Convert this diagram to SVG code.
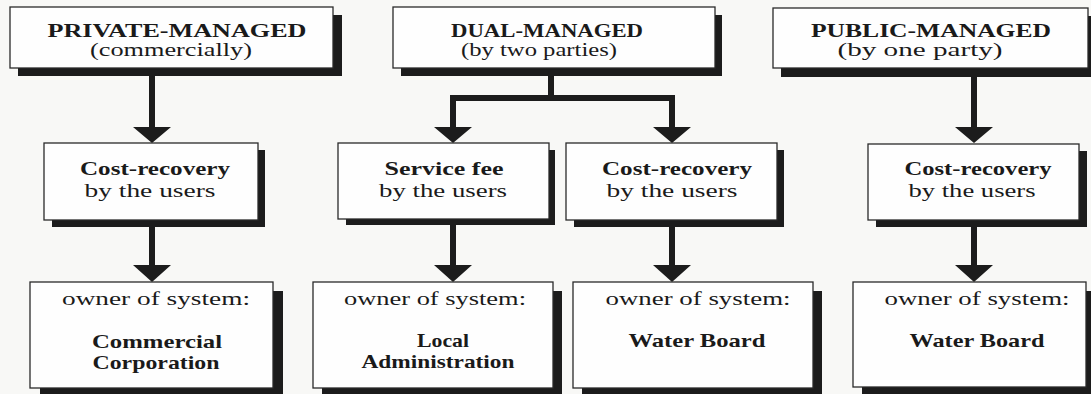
<svg xmlns="http://www.w3.org/2000/svg" width="1091" height="394" viewBox="0 0 1091 394">
<style>
.bg{fill:#f8f8f6}
.box{fill:#fefefe;stroke:#2a2a2a;stroke-width:1.3}
.shadow{fill:#1c1c1c}
.t{font-family:"Liberation Serif","Times New Roman",serif;fill:#1a1a1a;text-anchor:middle}
.b{font-weight:bold}
.s17{font-size:18px}
.s18{font-size:19px}
.line{stroke:#1c1c1c;stroke-width:6;fill:none}
.head{fill:#1c1c1c}
</style>
<rect class="bg" x="0" y="0" width="1091" height="394"/>

<g id="connectors">
  <path class="line" d="M152,76 V128"/>
  <polygon class="head" points="133,127 171,127 152,143"/>
  <path class="line" d="M152,227 V266"/>
  <polygon class="head" points="133,265 171,265 152,282"/>

  <path class="line" d="M551,76 V98 M453,98 H672 M453,95 V128 M672,95 V128"/>
  <polygon class="head" points="434,127 472,127 453,143"/>
  <polygon class="head" points="653,127 691,127 672,143"/>
  <path class="line" d="M453,225 V266"/>
  <polygon class="head" points="434,265 472,265 453,282"/>
  <path class="line" d="M672,227 V266"/>
  <polygon class="head" points="653,265 691,265 672,282"/>

  <path class="line" d="M974,77 V128"/>
  <polygon class="head" points="955,127 993,127 974,143"/>
  <path class="line" d="M974,227 V266"/>
  <polygon class="head" points="955,265 993,265 974,282"/>
</g>

<g id="private-managed">
  <rect class="shadow" x="18" y="15" width="324" height="61"/>
  <rect class="box" x="10" y="7" width="323" height="61"/>
  <text class="t b s17" x="177" y="37" textLength="259" lengthAdjust="spacingAndGlyphs">PRIVATE-MANAGED</text>
  <text class="t s17" x="171" y="56" textLength="162" lengthAdjust="spacingAndGlyphs">(commercially)</text>
</g>

<g id="dual-managed">
  <rect class="shadow" x="401" y="15" width="321" height="61"/>
  <rect class="box" x="393" y="7" width="322" height="61"/>
  <text class="t b s17" x="547" y="37" textLength="192" lengthAdjust="spacingAndGlyphs">DUAL-MANAGED</text>
  <text class="t s17" x="539" y="56" textLength="156" lengthAdjust="spacingAndGlyphs">(by two parties)</text>
</g>

<g id="public-managed">
  <rect class="shadow" x="781" y="16" width="310" height="61"/>
  <rect class="box" x="773" y="8" width="315" height="60"/>
  <text class="t b s17" x="931" y="37" textLength="240" lengthAdjust="spacingAndGlyphs">PUBLIC-MANAGED</text>
  <text class="t s17" x="920" y="56" textLength="165" lengthAdjust="spacingAndGlyphs">(by one party)</text>
</g>

<g id="cost-recovery-private">
  <rect class="shadow" x="52" y="150" width="213" height="77"/>
  <rect class="box" x="44" y="143" width="214" height="77"/>
  <text class="t b s18" x="155" y="175" textLength="150" lengthAdjust="spacingAndGlyphs">Cost-recovery</text>
  <text class="t s18" x="150" y="197" textLength="131" lengthAdjust="spacingAndGlyphs">by the users</text>
</g>

<g id="service-fee">
  <rect class="shadow" x="346" y="150" width="209" height="75"/>
  <rect class="box" x="338" y="143" width="211" height="76"/>
  <text class="t b s18" x="444" y="175" textLength="119" lengthAdjust="spacingAndGlyphs">Service fee</text>
  <text class="t s18" x="443" y="197" textLength="128" lengthAdjust="spacingAndGlyphs">by the users</text>
</g>

<g id="cost-recovery-dual">
  <rect class="shadow" x="574" y="150" width="210" height="77"/>
  <rect class="box" x="566" y="143" width="211" height="77"/>
  <text class="t b s18" x="677" y="175" textLength="150" lengthAdjust="spacingAndGlyphs">Cost-recovery</text>
  <text class="t s18" x="672" y="197" textLength="131" lengthAdjust="spacingAndGlyphs">by the users</text>
</g>

<g id="cost-recovery-public">
  <rect class="shadow" x="876" y="151" width="211" height="76"/>
  <rect class="box" x="868" y="144" width="211" height="76"/>
  <text class="t b s18" x="978" y="175" textLength="147" lengthAdjust="spacingAndGlyphs">Cost-recovery</text>
  <text class="t s18" x="972" y="197" textLength="127" lengthAdjust="spacingAndGlyphs">by the users</text>
</g>

<g id="owner-commercial">
  <rect class="shadow" x="40" y="291" width="243" height="110"/>
  <rect class="box" x="30" y="282" width="243" height="106"/>
  <text class="t s18" x="156" y="305" textLength="188" lengthAdjust="spacingAndGlyphs">owner of system:</text>
  <text class="t b s18" x="157" y="348" textLength="130" lengthAdjust="spacingAndGlyphs">Commercial</text>
  <text class="t b s18" x="156" y="369" textLength="127" lengthAdjust="spacingAndGlyphs">Corporation</text>
</g>

<g id="owner-local">
  <rect class="shadow" x="322" y="291" width="240" height="110"/>
  <rect class="box" x="313" y="282" width="240" height="106"/>
  <text class="t s18" x="435" y="305" textLength="182" lengthAdjust="spacingAndGlyphs">owner of system:</text>
  <text class="t b s18" x="443" y="347" textLength="52" lengthAdjust="spacingAndGlyphs">Local</text>
  <text class="t b s18" x="438" y="368" textLength="153" lengthAdjust="spacingAndGlyphs">Administration</text>
</g>

<g id="owner-waterboard-dual">
  <rect class="shadow" x="582" y="291" width="240" height="110"/>
  <rect class="box" x="573" y="282" width="240" height="106"/>
  <text class="t s18" x="698" y="305" textLength="185" lengthAdjust="spacingAndGlyphs">owner of system:</text>
  <text class="t b s18" x="697" y="347" textLength="137" lengthAdjust="spacingAndGlyphs">Water Board</text>
</g>

<g id="owner-waterboard-public">
  <rect class="shadow" x="862" y="291" width="229" height="110"/>
  <rect class="box" x="853" y="282" width="233" height="105"/>
  <text class="t s18" x="977" y="305" textLength="185" lengthAdjust="spacingAndGlyphs">owner of system:</text>
  <text class="t b s18" x="977" y="347" textLength="135" lengthAdjust="spacingAndGlyphs">Water Board</text>
</g>
</svg>
